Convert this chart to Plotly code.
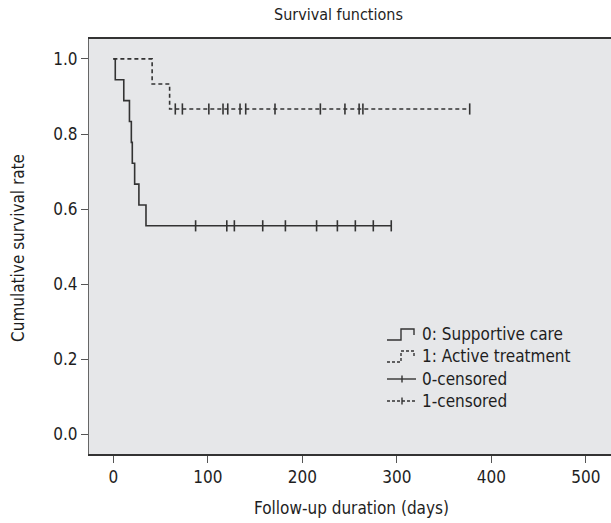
import plotly.graph_objects as go

# ---- data (days) ----
g0_event_times = [2, 11, 17, 19, 20, 22.5, 27, 34.5]
g0_censor_times = [87, 120, 128, 158, 182, 215, 237, 256, 275, 294]
g1_event_times = [41, 59.5]
g1_censor_times = [65.5, 73, 101, 116, 121, 134, 140, 171, 219, 245, 260, 264, 377]

group_names = ["0: Supportive care", "1: Active treatment"]
censor_names = ["0-censored", "1-censored"]
x_ticks = [0, 100, 200, 300, 400, 500]
y_ticks = [0.0, 0.2, 0.4, 0.6, 0.8, 1.0]

FONT = "Liberation Sans Narrow, DejaVu Sans Condensed, Arial Narrow, DejaVu Sans, sans-serif"
INK = "#333333"
TXT = "#1e1e1e"
W, H = 611, 523
L, T, R, B = 89, 39, 0, 69


def km(events, censors):
    n = len(events) + len(censors)
    times = sorted(set(events))
    xs, ys = [0], [1.0]
    s = 1.0
    at_risk = n
    allt = sorted([(t, 1) for t in events] + [(t, 0) for t in censors])
    i = 0
    for t in times:
        while i < len(allt) and allt[i][0] < t:
            at_risk -= 1
            i += 1
        d = sum(1 for e in events if e == t)
        s = s * (1 - d / at_risk)
        xs.append(t)
        ys.append(s)
        at_risk -= d
        i += d

    def surv_at(tt):
        v = 1.0
        for a, b in zip(xs, ys):
            if a <= tt:
                v = b
        return v
    end = max(censors + events)
    xs.append(end)
    ys.append(ys[-1])
    cy = [surv_at(t) for t in censors]
    return xs, ys, cy


fig = go.Figure()
dashes = ["solid", "4px,3px"]
for k, (ev, ce) in enumerate([(g0_event_times, g0_censor_times), (g1_event_times, g1_censor_times)]):
    xs, ys, cy = km(ev, ce)
    fig.add_trace(go.Scatter(x=xs, y=ys, mode="lines", line=dict(shape="hv", color=INK, width=1.6, dash=dashes[k]),
                             name=group_names[k], showlegend=False, hoverinfo="skip"))
    fig.add_trace(go.Scatter(x=ce, y=cy, mode="markers",
                             marker=dict(symbol="line-ns", size=8, line=dict(color=INK, width=1.6)),
                             name=censor_names[k], showlegend=False))

# ---- pixel -> paper helpers for the hand-drawn legend ----
pw, ph = W - L - R, H - T - B


def px(x):
    return (x - L) / pw


def py(y):
    return (H - B - y) / ph


shapes = []
rows_y = [334, 356, 379, 401]
for k in range(2):
    yc = rows_y[k]
    path = "M {},{} L {},{} L {},{} L {},{} L {},{}".format(
        px(387), py(yc + 6), px(401), py(yc + 6), px(401), py(yc - 5), px(414), py(yc - 5), px(414), py(yc + 1))
    shapes.append(dict(type="path", xref="paper", yref="paper", path=path,
                       line=dict(color=INK, width=1.4, dash="solid" if k == 0 else "3px,2px")))
for k in range(2):
    yc = rows_y[k + 2]
    shapes.append(dict(type="line", xref="paper", yref="paper", x0=px(387), x1=px(416), y0=py(yc), y1=py(yc),
                       line=dict(color=INK, width=1.4, dash="solid" if k == 0 else "3px,2px")))
    shapes.append(dict(type="line", xref="paper", yref="paper", x0=px(402), x1=px(402), y0=py(yc - 3.5), y1=py(yc + 3.5),
                       line=dict(color=INK, width=1.4)))

annotations = []
for k, txt in enumerate(group_names + censor_names):
    annotations.append(dict(text=txt, xref="paper", yref="paper", x=px(420), y=py(rows_y[k]),
                            xanchor="left", yanchor="middle", showarrow=False,
                            font=dict(family=FONT, size=17, color=TXT)))
# chart title and axis titles placed in pixels
annotations.append(dict(text="Survival functions", xref="paper", yref="paper", x=px(338), y=py(15),
                        xanchor="center", yanchor="middle", showarrow=False,
                        font=dict(family=FONT, size=16, color=TXT)))
annotations.append(dict(text="Cumulative survival rate", xref="paper", yref="paper", x=px(18), y=py(248),
                        xanchor="center", yanchor="middle", showarrow=False, textangle=-90,
                        font=dict(family=FONT, size=17, color=TXT)))
annotations.append(dict(text="Follow-up duration (days)", xref="paper", yref="paper", x=px(351), y=py(508),
                        xanchor="center", yanchor="middle", showarrow=False,
                        font=dict(family=FONT, size=17, color=TXT)))

fig.update_layout(
    width=W, height=H,
    margin=dict(l=L, r=R, t=T, b=B, pad=0, autoexpand=False),
    paper_bgcolor="white", plot_bgcolor="#e6e7e9",
    font=dict(family=FONT, size=17, color=TXT),
    showlegend=False,
    shapes=shapes, annotations=annotations,
    xaxis=dict(range=[-25.8, 526.5], tickvals=x_ticks, ticktext=[str(v) for v in x_ticks],
               showgrid=False, zeroline=False, showline=True, linecolor=INK, linewidth=1.5, mirror=True,
               ticks="outside", ticklen=7, tickcolor="#555", tickwidth=1, automargin=False),
    yaxis=dict(range=[-0.052, 1.053], tickvals=y_ticks, ticktext=["%.1f" % v for v in y_ticks],
               showgrid=False, zeroline=False, showline=True, linecolor="#666", linewidth=1.2,
               ticks="outside", ticklen=7, tickcolor="#555", tickwidth=1, automargin=False),
)

fig.write_html("out.html", config={"displayModeBar": False},
               post_script="document.body.style.margin='0px';document.body.style.overflow='hidden';")
